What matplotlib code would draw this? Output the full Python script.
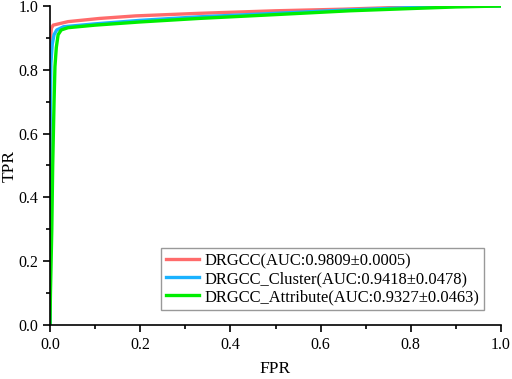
import numpy as np
import matplotlib.pyplot as plt
from matplotlib.ticker import MultipleLocator

plt.rcParams['font.family'] = ['Liberation Serif', 'DejaVu Serif']

# ROC points
fpr_red = [0, 0, 0.003, 0.007, 0.04, 0.11, 0.19, 0.33, 0.5, 0.65, 0.78, 0.85, 1.0]
tpr_red = [0, 0.87, 0.93, 0.94, 0.951, 0.961, 0.969, 0.977, 0.985, 0.99, 0.996, 1.0, 1.0]
fpr_blue = [0, 0, 0.002, 0.005, 0.009, 0.015, 0.03, 0.1, 0.2, 0.33, 0.5, 0.65, 0.8, 0.87, 1.0]
tpr_blue = [0, 0.6, 0.82, 0.88, 0.91, 0.925, 0.935, 0.944, 0.955, 0.966, 0.977, 0.987, 0.995, 1.0, 1.0]
fpr_green = [0, 0.001, 0.004, 0.006, 0.009, 0.011, 0.014, 0.018, 0.025, 0.04, 0.1, 0.2, 0.33, 0.5, 0.665, 0.8, 0.9, 1.0]
tpr_green = [0, 0.1, 0.3, 0.5, 0.7, 0.81, 0.87, 0.91, 0.925, 0.932, 0.94, 0.95, 0.961, 0.973, 0.985, 0.992, 0.997, 1.0]

labels = ['DRGCC(AUC:0.9809\u00b10.0005)',
          'DRGCC_Cluster(AUC:0.9418\u00b10.0478)',
          'DRGCC_Attribute(AUC:0.9327\u00b10.0463)']
colors = ['#ff6b6b', '#1ab2ff', '#00ee00']

fig = plt.figure(figsize=(5.12, 3.79), dpi=100)
ax = fig.add_axes([50/512, 54/379, 451/512, 319/379])

ax.plot(fpr_red, tpr_red, color=colors[0], lw=2.4, label=labels[0])
ax.plot(fpr_blue, tpr_blue, color=colors[1], lw=2.4, label=labels[1])
ax.plot(fpr_green, tpr_green, color=colors[2], lw=2.4, label=labels[2])

ax.set_xlim(0, 1)
ax.set_ylim(0, 1)
ax.xaxis.set_major_locator(MultipleLocator(0.2))
ax.xaxis.set_minor_locator(MultipleLocator(0.1))
ax.yaxis.set_major_locator(MultipleLocator(0.2))
ax.yaxis.set_minor_locator(MultipleLocator(0.1))
ax.xaxis.set_major_formatter(plt.FormatStrFormatter('%.1f'))
ax.yaxis.set_major_formatter(plt.FormatStrFormatter('%.1f'))
ax.tick_params(which='major', length=5, width=1.2, labelsize=11.5)
ax.tick_params(which='minor', length=3, width=1.2)
ax.spines['top'].set_visible(False)
ax.spines['right'].set_visible(False)
ax.spines['left'].set_linewidth(1.2)
ax.spines['bottom'].set_linewidth(1.2)
ax.set_xlabel('FPR', fontsize=12.5)
ax.set_ylabel('TPR', fontsize=12.5)
ax.xaxis.set_label_coords(0.499, -0.114)
ax.yaxis.set_label_coords(-0.071, 0.498)

leg = ax.legend(loc='lower right', bbox_to_anchor=(0.962, 0.047), fontsize=11.9,
                fancybox=False, edgecolor='#808080', handlelength=2.0,
                handletextpad=0.3, labelspacing=0.12, borderpad=0.3, borderaxespad=0)
leg.get_frame().set_linewidth(1.0)

fig.savefig('out.png', dpi=100)
